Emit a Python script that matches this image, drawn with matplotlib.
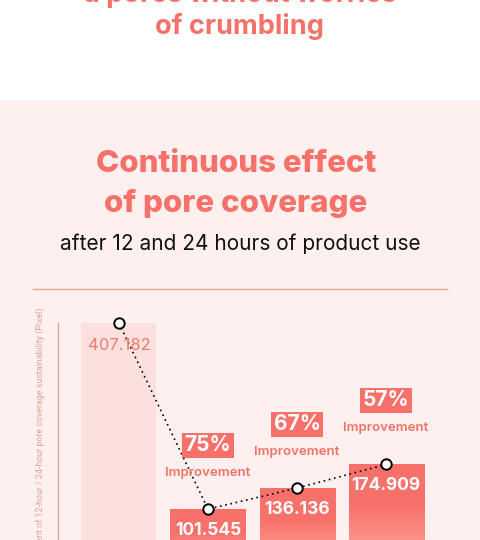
import numpy as np
import matplotlib.pyplot as plt
from matplotlib.patches import Rectangle
from matplotlib.colors import LinearSegmentedColormap

plt.rcParams['font.family'] = ['Inter', 'DejaVu Sans']

# Data
groups = ["Before", "12h A", "12h B", "24h"]
values = [407.182, 101.545, 136.136, 174.909]
value_labels = ["407.182", "101.545", "136.136", "174.909"]
improvements = [None, "75%", "67%", "57%"]

W, H = 481, 540
CORAL = "#f7716a"
PINK_BG = "#fdf0ee"
LIGHT_BAR = "#fbe0dd"

fig = plt.figure(figsize=(W / 100, H / 100), dpi=100)
fig.patch.set_facecolor("white")


def fx(x):
    return x / W


def fy(y):
    return 1 - y / H


# pink panel
fig.patches.append(Rectangle((0, 0), 1, fy(100), transform=fig.transFigure,
                             facecolor=PINK_BG, edgecolor="none", zorder=-1))

# header text (cropped)
fig.text(fx(240), fy(-6), "a pores without worries", ha="center", va="center",
         fontsize=19.5, fontweight="bold", color=CORAL)
fig.text(fx(240), fy(27), "of crumbling", ha="center", va="center",
         fontsize=19.5, fontweight="bold", color=CORAL)

# titles
fig.text(fx(236), fy(164), "Continuous effect", ha="center", va="center",
         fontsize=22.5, fontweight="heavy", color=CORAL)
fig.text(fx(236), fy(203), "of pore coverage", ha="center", va="center",
         fontsize=22.5, fontweight="heavy", color=CORAL)
fig.text(fx(240), fy(244), "after 12 and 24 hours of product use", ha="center",
         va="center", fontsize=15, color="#111111")

# separator line
fig.add_artist(plt.Line2D([fx(33), fx(447)], [fy(289), fy(289)],
                          transform=fig.transFigure, color="#e2a999", lw=1))

# axes: baseline sits below the visible canvas
left, right = 58, 447
top, base = 323, 571
ax = fig.add_axes([fx(left), fy(base), (right - left) / W, (base - top) / H])
ax.set_facecolor("none")
x = np.arange(len(values))
for s in ["top", "right", "bottom"]:
    ax.spines[s].set_visible(False)
ax.spines["left"].set_color("#d9a29a")
ax.spines["left"].set_linewidth(1)
ax.set_xticks([])
ax.set_yticks([])

bw = 75 / 89
bars = ax.bar(x, values, width=bw, color=[LIGHT_BAR] + [CORAL] * 3,
              edgecolor="none", zorder=1)

# vertical gradient on the coral bars
cmap = LinearSegmentedColormap.from_list(
    "g", [(0, "#fca69b"), (0.3, "#fb9288"), (0.62, CORAL), (1, CORAL)])
grad = np.linspace(0, 1, 256).reshape(-1, 1)
for b in bars[1:]:
    im = ax.imshow(grad, cmap=cmap, aspect="auto", origin="lower",
                   extent=(b.get_x(), b.get_x() + b.get_width(), 0, b.get_height()),
                   zorder=1.5)
    im.set_clip_path(b)
ax.set_xlim(-0.685, 3.685)
ax.set_ylim(0, values[0])

# dotted connecting line with markers
ax.plot(x, values, linestyle=(0, (1, 2.2)), color="black", lw=1.2, zorder=3,
        clip_on=False)
ax.plot(x, values, linestyle="none", marker="o", markersize=7.5,
        markerfacecolor="white", markeredgecolor="black", markeredgewidth=1.4,
        zorder=4, clip_on=False)

# value labels
ax.annotate(value_labels[0], (x[0], values[0]), xytext=(0, -22),
            textcoords="offset pixels", ha="center", va="center",
            fontsize=12, color="#ef7b70", zorder=5)
for i in range(1, 4):
    ax.annotate(value_labels[i], (x[i], values[i]), xytext=(0, -21),
                textcoords="offset pixels", ha="center", va="center",
                fontsize=12.5, fontweight="bold", color="white", zorder=5)

# improvement badges
for i in range(1, 4):
    ax.annotate(improvements[i], (x[i], values[i]), xytext=(0, 64),
                textcoords="offset pixels", ha="center", va="center",
                fontsize=15, fontweight="bold", color="white", zorder=5,
                annotation_clip=False,
                bbox=dict(boxstyle="square,pad=0.12", facecolor=CORAL,
                          edgecolor="none"))
    ax.annotate("Improvement", (x[i], values[i]), xytext=(0, 36),
                textcoords="offset pixels", ha="center", va="center",
                fontsize=9.5, fontweight="semibold", color="#ef7268", zorder=5,
                annotation_clip=False)

# y label (cropped at bottom)
fig.text(fx(40), fy(308), "Measurement of 12-hour / 24-hour pore coverage sustainability (Pixel)",
         rotation=90, ha="center", va="top", fontsize=6.4, color="#dca49c",
         family=["Roboto", "DejaVu Sans"])

fig.savefig("out.png", dpi=100, facecolor=fig.get_facecolor())
